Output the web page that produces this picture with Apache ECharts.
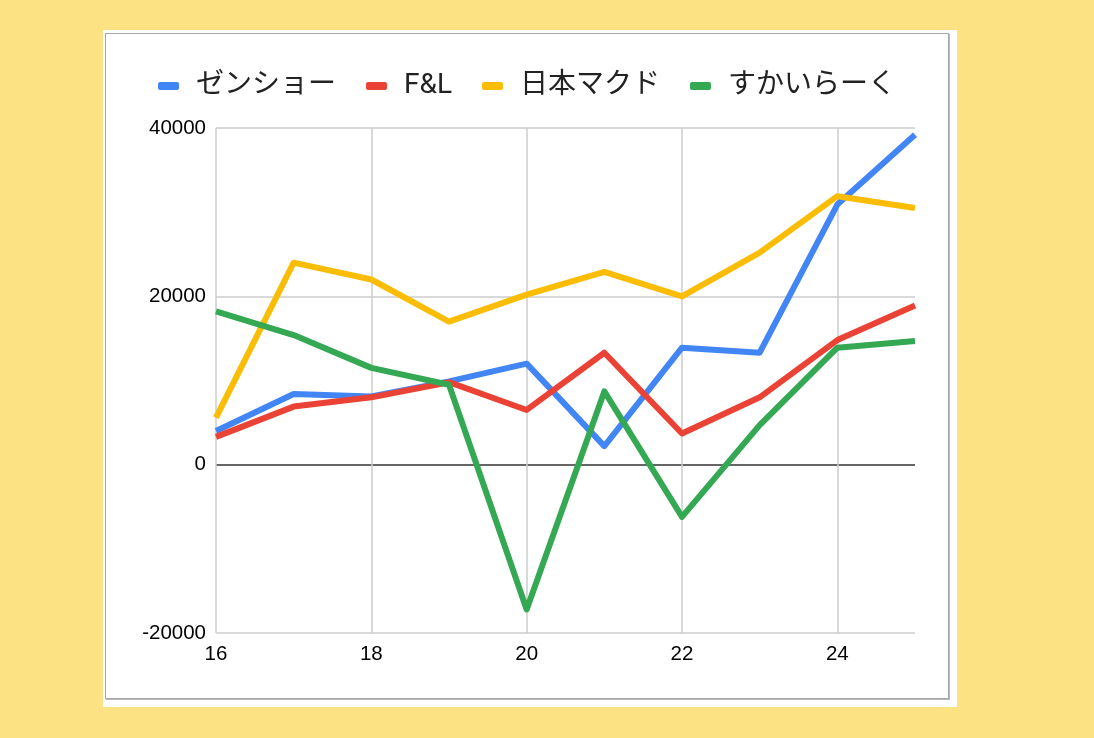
<!DOCTYPE html>
<html>
<head>
<meta charset="utf-8">
<script src="https://cdn.jsdelivr.net/npm/echarts@6/dist/echarts.min.js"></script>
<style>
    html, body { margin: 0; padding: 0; }
    body { width: 1094px; height: 738px; background: #fde283; position: relative; overflow: hidden; }
    .card { position: absolute; left: 103px; top: 30px; width: 854px; height: 677px; background: #fff; }
    .frame { position: absolute; left: 105px; top: 33px; width: 842px; height: 664px;
             border: 1px solid #a8a8a8; box-shadow: 1px 1px 0 #b8b8b8; }
    #chart { position: absolute; left: 105px; top: 33px; width: 844px; height: 666px; }
</style>
</head>
<body>
<div class="card"></div>
<div class="frame"></div>
<div id="chart"></div>
<script>
// 月（横軸）
var months = [16, 17, 18, 19, 20, 21, 22, 23, 24, 25];
// 各社の値
var zensho   = [4000, 8400, 8100, 9900, 12000, 2200, 13900, 13300, 30900, 39200];
var fl       = [3300, 6900, 8000, 9800, 6500, 13300, 3700, 8000, 14800, 18900];
var mac      = [5600, 24000, 22000, 17000, 20200, 22900, 20000, 25200, 31900, 30500];
var skylark  = [18200, 15400, 11500, 9500, -17200, 8700, -6200, 4700, 13900, 14700];
var seriesNames = ['ゼンショー', 'F&L', '日本マクド', 'すかいらーく'];
var seriesColors = ['#4285f4', '#ea4335', '#fbbc04', '#34a853'];

var chart = echarts.init(document.getElementById('chart'));

function pairs(arr) {
    var out = [];
    for (var i = 0; i < months.length; i++) {
        out.push([months[i], arr[i]]);
    }
    return out;
}

var allData = [zensho, fl, mac, skylark];
var series = [];
for (var k = 0; k < allData.length; k++) {
    series.push({
        name: seriesNames[k],
        type: 'line',
        data: pairs(allData[k]),
        showSymbol: false,
        symbol: 'none',
        lineStyle: { width: 6, color: seriesColors[k], join: 'round' },
        itemStyle: { color: seriesColors[k] },
        z: 3 + k
    });
}

var font = 'Roboto, Arial, "Noto Sans CJK JP", sans-serif';
var axisFont = '"Liberation Sans", Arial, sans-serif';

chart.setOption({
    animation: false,
    color: seriesColors,
    legend: {
        top: 34,
        left: 'center',
        icon: 'roundRect',
        itemWidth: 21,
        itemHeight: 8,
        itemGap: 30,
        textStyle: { fontSize: 28, color: '#222', fontFamily: font, padding: [0, 0, 0, 12] }
    },
    grid: { left: 111, top: 95, width: 699, height: 505, containLabel: false },
    xAxis: {
        type: 'value',
        min: 16,
        max: 25,
        interval: 2,
        axisLine: { show: false },
        axisTick: { show: false },
        axisLabel: { fontSize: 20.5, color: '#000', fontFamily: axisFont, margin: 11, showMaxLabel: false },
        splitLine: { show: true, lineStyle: { width: 1.5, color: ['#cccccc', '#cccccc', '#cccccc', '#cccccc', '#cccccc', 'rgba(0,0,0,0)'] } }
    },
    yAxis: {
        type: 'value',
        min: -20000,
        max: 40000,
        interval: 20000,
        axisLine: { show: false },
        axisTick: { show: false },
        axisLabel: {
            fontSize: 20.5, color: '#000', fontFamily: axisFont, margin: 10,
            formatter: function (v) { return String(v); }
        },
        splitLine: { show: true, lineStyle: { width: 1.5, color: ['#cccccc', '#333333', '#cccccc', '#cccccc'] } }
    },
    series: series
});
</script>
</body>
</html>
